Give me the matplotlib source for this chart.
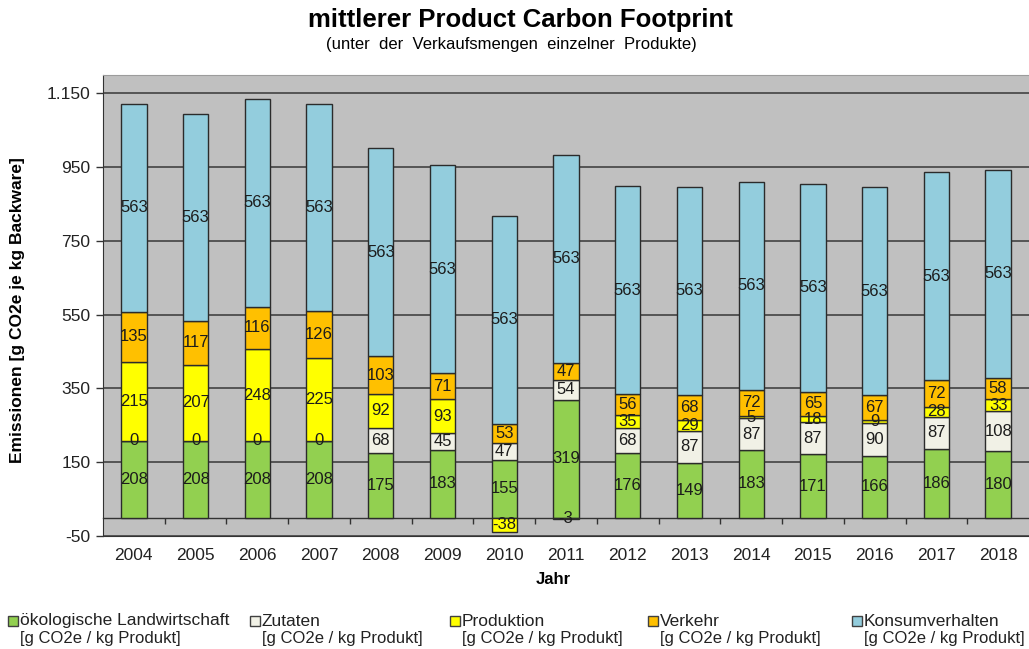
import numpy as np
import matplotlib
matplotlib.use("Agg")
import matplotlib.pyplot as plt
from matplotlib.patches import Rectangle
from matplotlib.ticker import FuncFormatter

plt.rcParams["font.family"] = ["Liberation Sans", "DejaVu Sans"]

# Emissionen je Jahr [g CO2e / kg Produkt]
years = [2004, 2005, 2006, 2007, 2008, 2009, 2010, 2011,
         2012, 2013, 2014, 2015, 2016, 2017, 2018]
landwirtschaft = [208, 208, 208, 208, 175, 183, 155, 319, 176, 149, 183, 171, 166, 186, 180]
zutaten = [0, 0, 0, 0, 68, 45, 47, 54, 68, 87, 87, 87, 90, 87, 108]
produktion = [215, 207, 248, 225, 92, 93, -38, -3, 35, 29, 5, 18, 9, 28, 33]
verkehr = [135, 117, 116, 126, 103, 71, 53, 47, 56, 68, 72, 65, 67, 72, 58]
konsum = [563, 563, 563, 563, 563, 563, 563, 563, 563, 563, 563, 563, 563, 563, 563]

series_names = ["ökologische Landwirtschaft", "Zutaten", "Produktion",
                "Verkehr", "Konsumverhalten"]
unit = "[g CO2e / kg Produkt]"
colors = ["#92D050", "#F1F1E6", "#FFFF00", "#FFC000", "#93CDDD"]
y_ticks = [-50, 150, 350, 550, 750, 950, 1150]

BG = "#C0C0C0"
DARK = "#333333"

W, H = 1029, 649
fig = plt.figure(figsize=(W / 100, H / 100), dpi=100, facecolor="white")
ax = fig.add_axes([103 / W, 1 - 536 / H, 926 / W, 461 / H])
ax.set_facecolor(BG)

x = np.arange(len(years))
pos_base = np.zeros(len(years))
neg_base = np.zeros(len(years))
for vals, name, col in zip([landwirtschaft, zutaten, produktion, verkehr, konsum],
                           series_names, colors):
    v = np.array(vals, dtype=float)
    bottom = np.where(v >= 0, pos_base, neg_base)
    bars = ax.bar(x, v, 0.41, bottom=bottom, color=col, edgecolor="#2b2b2b",
                  linewidth=1.0, zorder=3, label=name)
    ax.bar_label(bars, label_type="center", fontsize=12, color="#1c1c1c",
                 zorder=4)
    pos_base = pos_base + np.where(v >= 0, v, 0)
    neg_base = neg_base + np.where(v < 0, v, 0)

ax.set_xlim(-0.5, len(years) - 0.5)
ax.set_ylim(-50, 1200)
ax.set_yticks(y_ticks)
ax.yaxis.set_major_formatter(FuncFormatter(lambda v, _: f"{v:,.0f}".replace(",", ".")))
ax.tick_params(axis="y", direction="out", length=5, width=1.0, color=DARK,
               labelsize=12.5, labelcolor="#222222", pad=4)
ax.set_xticks(x)
ax.set_xticklabels([str(y) for y in years])
ax.tick_params(axis="x", length=0, labelsize=12.5, labelcolor="#222222", pad=9)
ax.yaxis.grid(True, color="#383838", linewidth=1.1, zorder=1)
ax.set_axisbelow(True)

ax.spines["left"].set_color(DARK)
ax.spines["bottom"].set_color(DARK)
ax.spines["top"].set_color("#9c9c9c")
ax.spines["right"].set_visible(False)

# category axis line at zero with separators between the years
zero_axis = ax.secondary_xaxis(50 / 1250)
zero_axis.set_xticks(np.arange(0.5, len(years) - 0.5, 1.0))
zero_axis.set_xticklabels([])
zero_axis.tick_params(direction="out", length=4, width=1.0, color=DARK)
zero_axis.spines["bottom"].set_color(DARK)
zero_axis.spines["bottom"].set_linewidth(1.0)

fig.text(553 / W, 1 - 580 / H, "Jahr", ha="center", va="center",
         fontsize=12, fontweight="bold")
fig.text(18 / W, 1 - 310 / H,
         "Emissionen [g CO2e je kg Backware]", rotation=90,
         ha="center", va="center", fontsize=12.5, fontweight="bold")

fig.text(520 / W, 1 - 20 / H, "mittlerer Product Carbon Footprint",
         ha="center", va="center", fontsize=18.5, fontweight="bold")
fig.text(511 / W, 1 - 45 / H, "(unter  der  Verkaufsmengen  einzelner  Produkte)",
         ha="center", va="center", fontsize=12)

# legend along the bottom, two lines per entry
legend_x = [8, 250, 450, 648, 852]
for lx, name, col in zip(legend_x, series_names, colors):
    fig.add_artist(Rectangle((lx / W, 1 - 626 / H), 10 / W, 10 / H,
                             transform=fig.transFigure, facecolor=col,
                             edgecolor="#404040", linewidth=1.0))
    fig.text((lx + 12) / W, 1 - 621 / H, name, ha="left", va="center",
             fontsize=12.5, color="#222222")
    fig.text((lx + 12) / W, 1 - 638 / H, unit, ha="left", va="center",
             fontsize=12, color="#222222")

fig.savefig("out.png", dpi=100, facecolor="white")
